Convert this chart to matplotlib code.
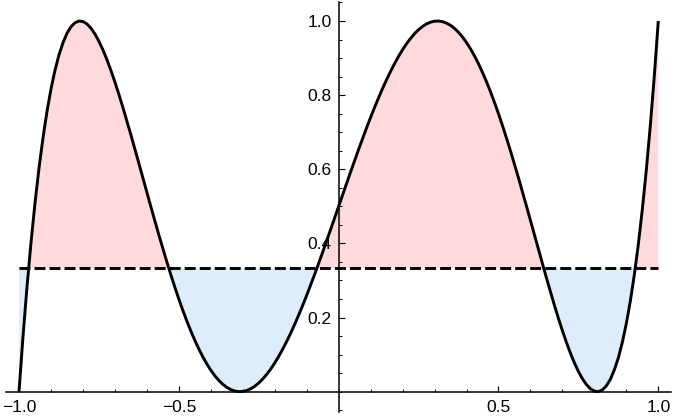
import matplotlib
matplotlib.use("Agg")
import matplotlib.pyplot as plt
import numpy as np

plt.rcParams['font.family'] = ['Liberation Sans', 'DejaVu Sans']

# curve samples (x from 0 to 1 step 0.0125); left half mirrors as 1 - y
x_pos = [round(0.0125 * i, 4) for i in range(81)]
y_pos = [0.5, 0.5312, 0.5623, 0.5932, 0.6238, 0.6538, 0.6833, 0.7121, 0.7401, 0.7672,
         0.7932, 0.8181, 0.8419, 0.8642, 0.8852, 0.9047, 0.9226, 0.9388, 0.9532, 0.9658,
         0.9766, 0.9853, 0.9921, 0.9968, 0.9994, 0.9999, 0.9982, 0.9943, 0.9883, 0.9800,
         0.9695, 0.9568, 0.9419, 0.9249, 0.9058, 0.8846, 0.8614, 0.8362, 0.8092, 0.7805,
         0.7500, 0.7180, 0.6845, 0.6498, 0.6139, 0.5770, 0.5392, 0.5009, 0.4621, 0.4231,
         0.3840, 0.3452, 0.3070, 0.2695, 0.2330, 0.1979, 0.1646, 0.1332, 0.1041, 0.0778,
         0.0547, 0.0350, 0.0193, 0.0079, 0.0014, 0.0001, 0.0048, 0.0157, 0.0334, 0.0589,
         0.0916, 0.1332, 0.1839, 0.2444, 0.3155, 0.3975, 0.4915, 0.5979, 0.7177, 0.8513,
         1.0]
x_neg = [-v for v in x_pos[:0:-1]]
y_neg = [1.0 - v for v in y_pos[:0:-1]]
x_vals = np.array(x_neg + x_pos)
y_vals = np.array(y_neg + y_pos)

ref_level = 1.0 / 3.0

x_ticks = [-1.0, -0.5, 0.5, 1.0]
x_tick_labels = ["\u22121.0", "\u22120.5", "0.5", "1.0"]
y_ticks = [0.2, 0.4, 0.6, 0.8, 1.0]
y_tick_labels = ["0.2", "0.4", "0.6", "0.8", "1.0"]

W, H = 674, 420
fig = plt.figure(figsize=(W / 100, H / 100), dpi=100)
ax = fig.add_axes([0, 0, 1, 1])

# pixel mapping
px_xm1, px_x1 = 19.0, 658.3
sx = (px_x1 - px_xm1) / 2.0
py_y0, py_y1 = 391.7, 21.0
sy = py_y0 - py_y1
ax.set_xlim(-1 - px_xm1 / sx, 1 + (W - px_x1) / sx)
ax.set_ylim(-(H - py_y0) / sy, 1 + py_y1 / sy)

pink = "#FFD9DC"
blue = "#DDEDFC"
ax.fill_between(x_vals, y_vals, ref_level, where=y_vals >= ref_level,
                interpolate=True, color=pink, lw=0, zorder=1)
ax.fill_between(x_vals, y_vals, ref_level, where=y_vals <= ref_level,
                interpolate=True, color=blue, lw=0, zorder=1)
ax.plot([x_vals[0], x_vals[-1]], [ref_level, ref_level], color="black", lw=2.1,
        linestyle=(0, (3.75, 1.4)), zorder=3)
ax.plot(x_vals, y_vals, color="black", lw=2.1, zorder=4, solid_capstyle="butt",
        solid_joinstyle="round")

for s in ["top", "right"]:
    ax.spines[s].set_visible(False)
ax.spines["left"].set_position(("data", 0))
ax.spines["bottom"].set_position(("data", 0))
ax.spines["left"].set_bounds(-0.055, 1.052)
ax.spines["bottom"].set_bounds(-1.041, 1.04)
for s in ["left", "bottom"]:
    ax.spines[s].set_linewidth(1.1)
    ax.spines[s].set_zorder(2)

ax.set_xticks(x_ticks)
ax.set_xticklabels(x_tick_labels)
ax.set_yticks(y_ticks)
ax.set_yticklabels(y_tick_labels)
ax.set_xticks(np.arange(-1.0, 1.05, 0.1), minor=True)
ax.set_yticks(np.arange(-0.05, 1.06, 0.05), minor=True)
ax.tick_params(which="major", direction="in", length=4, width=0.8, labelsize=12.5, pad=5)
ax.tick_params(which="minor", direction="in", length=2.3, width=0.7)
ax.tick_params(axis="x", which="major", pad=6)

fig.savefig("out.png", dpi=100)
